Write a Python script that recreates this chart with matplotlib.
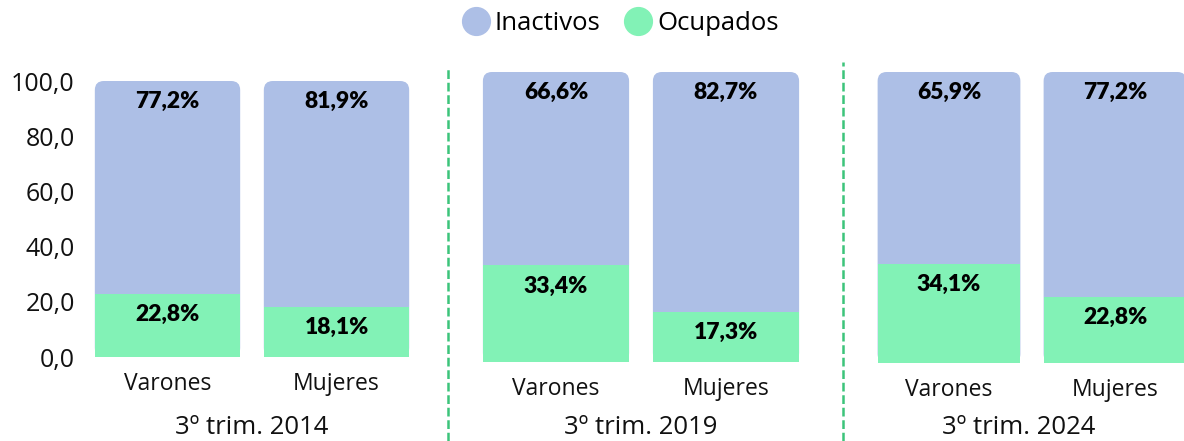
import matplotlib.pyplot as plt
from matplotlib.patches import FancyBboxPatch
from matplotlib.lines import Line2D

plt.rcParams['font.family'] = ['Open Sans', 'DejaVu Sans']

periodos = ['3º trim. 2014', '3º trim. 2019', '3º trim. 2024']
sexos = ['Varones', 'Mujeres']
ocupados = [[22.8, 18.1], [33.4, 17.3], [34.1, 22.8]]
inactivos = [[77.2, 81.9], [66.6, 82.7], [65.9, 77.2]]
yticks = [0, 20, 40, 60, 80, 100]
ytick_labels = ['0,0', '20,0', '40,0', '60,0', '80,0', '100,0']

c_inact = '#adbfe6'
c_ocup = '#82f2b6'
c_div = '#3cc47a'

W, H = 1184, 441
fig = plt.figure(figsize=(W / 100, H / 100), dpi=100)

# axes boxes in pixels: left, top, right, bottom
boxes = [(83, 81, 421, 357), (471, 72, 811, 362), (866, 72, 1198, 363)]

def fmt(v):
    return f'{v:.1f}'.replace('.', ',') + '%'

for k, (l, t, r, b) in enumerate(boxes):
    ax = fig.add_axes([l / W, (H - b) / H, (r - l) / W, (b - t) / H])
    ax.set_xlim(-0.5, 1.5)
    ax.set_ylim(0, 100)
    x = list(range(len(sexos)))
    totals = [o + i for o, i in zip(ocupados[k], inactivos[k])]

    # full bar with rounded top, green part covers the bottom
    base = ax.bar(x, totals, width=0.86, color=c_inact)
    px_x = (r - l) / 2.0
    px_y = (b - t) / 100.0
    rad = 9 / px_x
    for p in base:
        fb = FancyBboxPatch((p.get_x(), p.get_y()), p.get_width(), p.get_height(),
                            boxstyle=f'round,pad=0,rounding_size={rad}',
                            mutation_aspect=px_x / px_y, facecolor=c_inact,
                            edgecolor='none')
        p.remove()
        ax.add_patch(fb)
    ax.bar(x, ocupados[k], width=0.86, color=c_ocup, zorder=3)

    for xi, o, tot in zip(x, ocupados[k], totals):
        ax.annotate(fmt(tot - o), (xi, tot), xytext=(0, -15), textcoords='offset points',
                    ha='center', va='center', fontsize=16.5, fontweight='heavy',
                    family=['Lato', 'DejaVu Sans'], zorder=5)
        ax.annotate(fmt(o), (xi, o), xytext=(0, -15), textcoords='offset points',
                    ha='center', va='center', fontsize=16.5, fontweight='heavy',
                    family=['Lato', 'DejaVu Sans'], zorder=5)

    ax.set_xticks(x)
    ax.set_xticklabels(sexos, fontsize=16.5, color='#111111')
    ax.tick_params(axis='x', length=0, pad=11)
    if k == 0:
        ax.set_yticks(yticks)
        ax.set_yticklabels(ytick_labels, fontsize=18, color='#111111')
        ax.tick_params(axis='y', length=0, pad=6)
    else:
        ax.set_yticks([])
    for s in ax.spines.values():
        s.set_visible(False)

    cx = (boxes[k][0] + boxes[k][2]) / 2.0
    if k == 2:
        cx = 1019
    fig.text(cx / W, (H - 428) / H, periodos[k], ha='center', va='center',
             fontsize=18.5, color='#111111')

# dividers
for xd, yt in [(448, 66), (843, 62)]:
    fig.add_artist(Line2D([xd / W, xd / W], [0, (H - yt) / H], color=c_div,
                          lw=1.8, ls=(0, (3.5, 1.5))))

handles = [Line2D([], [], ls='none', marker='o', markersize=20, color=c_inact),
           Line2D([], [], ls='none', marker='o', markersize=20, color=c_ocup)]
fig.legend(handles, ['Inactivos', 'Ocupados'], loc='center', ncol=2,
           bbox_to_anchor=(620 / W, (H - 23) / H), frameon=False, fontsize=18.5,
           handletextpad=0.2, columnspacing=0.9, handlelength=1.1)

fig.savefig('out.png', dpi=100)
